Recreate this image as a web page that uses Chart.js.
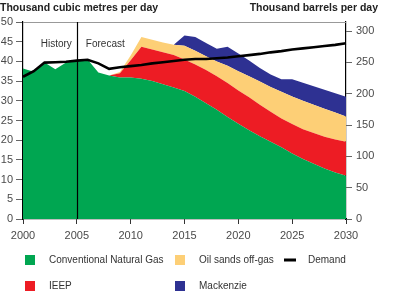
<!DOCTYPE html>
<html>
<head>
<meta charset="utf-8">
<script src="https://cdn.jsdelivr.net/npm/chart.js@4.4.1/dist/chart.umd.min.js"></script>
<style>
  html, body { margin: 0; padding: 0; background: #fff; }
  #wrap { width: 400px; height: 298px; }
</style>
</head>
<body>
<div id="wrap"><canvas id="gasChart" width="400" height="298"></canvas></div>
<script>
// thousand cubic metres per day, one value per year
const years = [2000, 2001, 2002, 2003, 2004, 2005, 2006, 2007, 2008, 2009,
  2010, 2011, 2012, 2013, 2014, 2015, 2016, 2017, 2018, 2019,
  2020, 2021, 2022, 2023, 2024, 2025, 2026, 2027, 2028, 2029, 2030];

const conventional = [38.2, 37.4, 39.7, 38.0, 39.7, 40.2, 40.5, 37.2, 36.4, 35.9,
  35.9, 35.6, 35.0, 34.2, 33.4, 32.5, 31.0, 29.4, 27.7, 25.9,
  24.2, 22.5, 21.0, 19.6, 18.2, 16.6, 15.2, 14.0, 12.8, 11.8, 11.0];

const ieep = [0, 0, 0, 0, 0, 0, 0, 0, 0, 1.1,
  4.4, 8.1, 8.0, 8.1, 8.2, 8.0, 8.2, 8.4, 8.5, 8.6,
  8.4, 8.4, 8.0, 7.6, 7.3, 7.5, 7.6, 7.8, 8.1, 8.4, 8.6];

const oilSands = [0, 0, 0, 0, 0, 0, 0, 0, 0, 0.3,
  1.2, 2.5, 2.5, 2.5, 2.6, 3.5, 3.5, 3.5, 3.8, 4.4,
  4.9, 5.3, 5.9, 6.3, 6.8, 7.0, 7.2, 7.2, 7.1, 6.8, 6.4];

const mackenzie = [0, 0, 0, 0, 0, 0, 0, 0, 0, 0,
  0, 0, 0, 0, 0, 2.6, 3.5, 3.4, 3.2, 4.8,
  4.5, 4.0, 3.4, 3.2, 3.2, 4.4, 4.6, 4.7, 4.8, 4.9, 5.0];

const demand = [36.1, 37.5, 39.7, 39.8, 39.9, 40.2, 40.4, 39.5, 38.1, 38.5,
  38.8, 39.1, 39.5, 39.8, 40.1, 40.4, 40.6, 40.6, 40.8, 41.0,
  41.3, 41.6, 41.9, 42.3, 42.6, 43.0, 43.3, 43.6, 43.9, 44.2, 44.6];

const leftTicks = [0, 5, 10, 15, 20, 25, 30, 35, 40, 45, 50];
const rightTicks = [0, 50, 100, 150, 200, 250, 300];
const BARRELS_PER_M3 = 6.2898;
const splitYear = 2005;

const FONT = "'Liberation Sans', Arial, sans-serif";
const tickColor = "#4a4a4a";

const green = "#00a651";
const red = "#ed1c24";
const orange = "#fdcf76";
const blue = "#2e3192";

function area(label, data, color, fill) {
  return {
    label: label,
    data: data,
    backgroundColor: color,
    borderColor: "transparent",
    borderWidth: 0,
    pointRadius: 0,
    fill: fill,
    tension: 0,
    yAxisID: "y",
    stack: "supply"
  };
}

const legendItems = [
  { label: "Conventional Natural Gas", color: green, col: 0, row: 0 },
  { label: "Oil sands off-gas", color: orange, col: 1, row: 0 },
  { label: "Demand", color: "#000", col: 2, row: 0, line: true },
  { label: "IEEP", color: red, col: 0, row: 1 },
  { label: "Mackenzie", color: blue, col: 1, row: 1 }
];
const legendCols = [25, 175, 284];
const legendRows = [260, 286];

const decorations = {
  id: "decorations",
  afterDatasetsDraw(chart) {
    const { ctx, chartArea, scales } = chart;
    const xs = scales.x.getPixelForValue(years.indexOf(splitYear));
    ctx.save();
    // top frame line
    ctx.strokeStyle = "#999";
    ctx.lineWidth = 1;
    ctx.beginPath();
    ctx.moveTo(chartArea.left, chartArea.top + 0.5);
    ctx.lineTo(chartArea.right, chartArea.top + 0.5);
    ctx.stroke();
    // history / forecast divider
    ctx.strokeStyle = "#000";
    ctx.lineWidth = 1.2;
    ctx.beginPath();
    ctx.moveTo(Math.round(xs) + 0.5, chartArea.top);
    ctx.lineTo(Math.round(xs) + 0.5, chartArea.bottom);
    ctx.stroke();
    ctx.fillStyle = "#333";
    ctx.font = "10px " + FONT;
    ctx.textBaseline = "alphabetic";
    ctx.textAlign = "right";
    ctx.fillText("History", xs - 5, 47);
    ctx.textAlign = "left";
    ctx.fillText("Forecast", xs + 9, 47);
    ctx.restore();
  },
  afterDraw(chart) {
    const { ctx } = chart;
    ctx.save();
    ctx.fillStyle = "#222";
    ctx.font = "bold 10.5px " + FONT;
    ctx.textBaseline = "alphabetic";
    ctx.textAlign = "left";
    ctx.fillText("Thousand cubic metres per day", 0, 11);
    ctx.textAlign = "right";
    ctx.fillText("Thousand barrels per day", 378, 11);

    ctx.font = "10px " + FONT;
    ctx.textBaseline = "middle";
    ctx.textAlign = "left";
    legendItems.forEach(item => {
      const x = legendCols[item.col];
      const y = legendRows[item.row];
      ctx.fillStyle = item.color;
      if (item.line) {
        ctx.fillRect(x, y - 1.5, 12, 3);
      } else {
        ctx.fillRect(x, y - 5, 10, 10);
      }
      ctx.fillStyle = "#333";
      ctx.fillText(item.label, x + 24, y);
    });
    ctx.restore();
  }
};

const ctx = document.getElementById("gasChart").getContext("2d");

new Chart(ctx, {
  type: "line",
  data: {
    labels: years,
    datasets: [
      {
        label: "Demand",
        data: demand,
        borderColor: "#000",
        backgroundColor: "#000",
        borderWidth: 2.6,
        pointRadius: 0,
        fill: false,
        tension: 0,
        yAxisID: "y",
        stack: "demand"
      },
      area("Conventional Natural Gas", conventional, green, "origin"),
      area("IEEP", ieep, red, "-1"),
      area("Oil sands off-gas", oilSands, orange, "-1"),
      area("Mackenzie", mackenzie, blue, "-1")
    ]
  },
  options: {
    responsive: false,
    animation: false,
    devicePixelRatio: 1,
    layout: { padding: { top: 22, left: 0, right: 0, bottom: 0 } },
    plugins: {
      legend: { display: false },
      tooltip: { enabled: false },
      title: { display: false }
    },
    scales: {
      x: {
        type: "category",
        offset: false,
        grid: { drawOnChartArea: false, drawTicks: true, tickLength: 5, color: "#333" },
        border: { display: true, color: "#000", width: 1.2 },
        ticks: {
          autoSkip: false,
          maxRotation: 0,
          padding: 5,
          color: tickColor,
          font: { family: FONT, size: 11 },
          callback: (v, i) => (years[i] % 5 === 0 ? String(years[i]) : null)
        },
        afterFit: s => { s.height = 79; }
      },
      y: {
        position: "left",
        stacked: true,
        min: 0,
        max: 50,
        afterBuildTicks: s => { s.ticks = leftTicks.map(v => ({ value: v })); },
        grid: { drawOnChartArea: false, drawTicks: true, tickLength: 7, color: "#666" },
        border: { display: true, color: "#000", width: 1.2 },
        ticks: { padding: 3, color: tickColor, font: { family: FONT, size: 11 } },
        afterFit: s => { s.width = 23; }
      },
      y2: {
        position: "right",
        min: 0,
        max: 50 * BARRELS_PER_M3,
        afterBuildTicks: s => { s.ticks = rightTicks.map(v => ({ value: v })); },
        grid: { drawOnChartArea: false, drawTicks: true, tickLength: 6, color: "#666" },
        border: { display: true, color: "#000", width: 1.2 },
        ticks: { padding: 4, color: tickColor, font: { family: FONT, size: 11 } },
        afterFit: s => { s.width = 54; }
      }
    }
  },
  plugins: [decorations]
});
</script>
</body>
</html>
